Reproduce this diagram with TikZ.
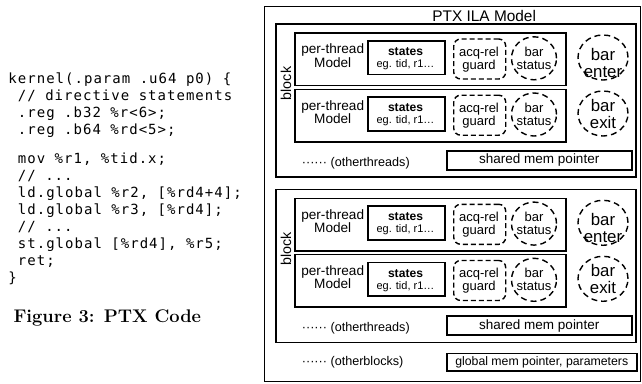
\documentclass[tikz,border=0pt]{standalone}
\usepackage{fontspec}
\usetikzlibrary{shapes.geometric}
\newfontfamily\arialf{Liberation Sans}
\newfontfamily\codefont[LetterSpace=7.3]{DejaVu Sans Mono}
\newcommand\fsz[1]{\fontsize{#1}{#1}\selectfont}
\tikzset{
  codeline/.style={font=\codefont\fsz{14}, inner sep=0pt, anchor=base west},
  lbl/.style={font=\arialf\fsz{13.6}, inner sep=0pt, anchor=base},
  solidbox/.style={draw, line width=1.5pt, inner sep=0pt, anchor=north west},
  dashbox/.style={draw, line width=1.4pt, dash pattern=on 5pt off 3pt, rounded corners=7pt, inner sep=0pt, anchor=north west},
  dashell/.style={ellipse, draw, line width=1.4pt, dash pattern=on 6pt off 4pt, inner sep=0pt},
  bigl/.style={lbl, font=\arialf\fsz{16.8}},
}
\newcommand\thr[2]{%
  \node[solidbox, minimum width=271pt, minimum height=52.5pt] (th#1) at (294,#2) {};
  \node[lbl] (pta#1) at (332.7,{#2+21.5}) {per-thread};
  \node[lbl] (ptb#1) at (332.7,{#2+35}) {Model};
  \node[solidbox, line width=1.8pt, minimum width=77pt, minimum height=33.5pt] (st#1) at (367,{#2+7.7}) {};
  \node[lbl, font=\arialf\bfseries\fsz{12.1}] (sta#1) at (405.5,{#2+23.2}) {states};
  \node[lbl, font=\arialf\fsz{11}] (stb#1) at (405.5,{#2+35.2}) {eg. tid, r1…};
  \node[dashbox, minimum width=52pt, minimum height=40pt] (ag#1) at (453,{#2+6}) {};
  \node[lbl, font=\arialf\fsz{13}] (aga#1) at (479,{#2+23.7}) {acq-rel};
  \node[lbl, font=\arialf\fsz{13}] (agb#1) at (479,{#2+37}) {guard};
  \node[dashell, minimum width=45pt, minimum height=43pt] (bs#1) at (534,{#2+26}) {};
  \node[lbl, font=\arialf\fsz{13}] (bsa#1) at (534,{#2+23.7}) {bar};
  \node[lbl, font=\arialf\fsz{13}] (bsb#1) at (534,{#2+37}) {status};
}
\newcommand\blk[2]{%
  \node[solidbox, line width=1.8pt, minimum width=360pt, minimum height=153pt] (bk#1) at (275,{23.3+#2}) {};
  \node[lbl, font=\arialf\fsz{14.3}, anchor=center, rotate=90] (bkl#1) at (286,{83.5+#2}) {block};
  \thr{#1a}{32.3+#2}
  \thr{#1b}{88.5+#2}
  \node[dashell, minimum width=50pt, minimum height=45pt] (be#1) at (603,{57.5+#2}) {};
  \node[bigl] (bea#1) at (603,{60.5+#2}) {bar};
  \node[bigl] (beb#1) at (603,{77+#2}) {enter};
  \node[dashell, minimum width=50pt, minimum height=45pt] (bx#1) at (603,{113.5+#2}) {};
  \node[bigl] (bxa#1) at (603,{111.5+#2}) {bar};
  \node[bigl] (bxb#1) at (603,{128.5+#2}) {exit};
  \node[solidbox, minimum width=185pt, minimum height=19pt] (sm#1) at (446,{150+#2}) {};
  \node[lbl, font=\arialf\fsz{13.5}, anchor=center] (smt#1) at (sm#1.center) {shared mem pointer};
  \node[lbl, font=\arialf\fsz{12.6}, anchor=base west] (ot#1) at (301.7,{166.5+#2}) {······ (otherthreads)};
}
\begin{document}
\begin{tikzpicture}[x=1pt,y=-1pt]
\useasboundingbox (0,0) rectangle (642,383);
% code
\node[codeline] (c1) at (8.3,83.3) {kernel(.param .u64 p0) \{};
\node[codeline] (c2) at (17.75,100.3) {// directive statements};
\node[codeline] (c3) at (17.75,117.3) {.reg .b32 \%r<6>;};
\node[codeline] (c4) at (17.75,134.3) {.reg .b64 \%rd<5>;};
\node[codeline] (c5) at (17.75,163) {mov \%r1, \%tid.x;};
\node[codeline] (c6) at (17.75,180) {// ...};
\node[codeline] (c7) at (17.75,197) {ld.global \%r2, [\%rd4+4];};
\node[codeline] (c8) at (17.75,214) {ld.global \%r3, [\%rd4];};
\node[codeline] (c9) at (17.75,231) {// ...};
\node[codeline] (c10) at (17.75,248) {st.global [\%rd4], \%r5;};
\node[codeline] (c11) at (17.75,265) {ret;};
\node[codeline] (c12) at (8.3,282) {\}};
\node[inner sep=0pt, anchor=base west, font=\bfseries\fsz{18.3}] (cap) at (13.3,322) {Figure 3: PTX Code};
% model
\node[solidbox, line width=1.2pt, minimum width=376pt, minimum height=375pt] (outer) at (264,6) {};
\node[lbl, font=\arialf\fsz{15.4}] (title) at (484.2,21.3) {PTX ILA Model};
\blk{A}{0}
\blk{B}{165.3}
\node[solidbox, minimum width=190pt, minimum height=17.5pt] (gm) at (446,352.5) {};
\node[lbl, font=\arialf\fsz{12.3}, anchor=center] (gmt) at (gm.center) {global mem pointer, parameters};
\node[lbl, font=\arialf\fsz{12.6}, anchor=base west] (ob) at (301.7,365.5) {······ (otherblocks)};
\end{tikzpicture}
\end{document}
